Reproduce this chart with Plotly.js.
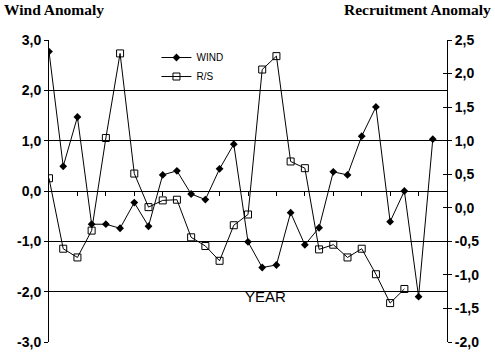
<!DOCTYPE html>
<html>
<head>
<meta charset="utf-8">
<script src="https://cdn.plot.ly/plotly-3.0.1.min.js"></script>
<style>html,body{margin:0;padding:0;background:#fff;}#chart{width:495px;height:356px;}</style>
</head>
<body>
<div id="chart"></div>
<script>
// category index (years, not labelled in the reference)
const yearIdx = [0,1,2,3,4,5,6,7,8,9,10,11,12,13,14,15,16,17,18,19,20,21,22,23,24,25,26,27];
const windValues = [2.77,0.49,1.47,-0.66,-0.66,-0.74,-0.23,-0.70,0.32,0.40,-0.06,-0.17,0.44,0.93,-1.01,-1.52,-1.47,-0.43,-1.07,-0.73,0.38,0.32,1.09,1.67,-0.61,0.0,-2.10,1.03];
const rsValues = [0.44,-0.61,-0.74,-0.34,1.04,2.30,0.51,0.01,0.11,0.12,-0.44,-0.57,-0.79,-0.26,-0.10,2.06,2.26,0.69,0.59,-0.62,-0.55,-0.74,-0.61,-0.99,-1.42,-1.21];
const leftTicks = [-3,-2,-1,0,1,2,3];
const leftTickText = ['-3,0','-2,0','-1,0','0,0','1,0','2,0','3,0'];
const rightTicks = [-2,-1.5,-1,-0.5,0,0.5,1,1.5,2,2.5];
const rightTickText = ['-2,0','-1,5','-1,0','-0,5','0,0','0,5','1,0','1,5','2,0','2,5'];
const xTicks = [2,4,6,8,10,12,14,16,18,20,22,24,26];

const tickFont = {family:'Liberation Sans, Arial, sans-serif', size:14, color:'#000', weight:'bold'};

const traces = [
  {x: yearIdx, y: windValues, name:'WIND', type:'scatter', mode:'lines+markers', xaxis:'x', yaxis:'y',
   line:{color:'#000', width:1}, marker:{symbol:'diamond', size:6, color:'#000'}},
  {x: yearIdx.slice(0, rsValues.length), y: rsValues, name:'R/S', type:'scatter', mode:'lines+markers', xaxis:'x', yaxis:'y2',
   line:{color:'#000', width:1}, marker:{symbol:'square-open', size:7, color:'#000', line:{width:1}}}
];

const layout = {
  width:495, height:356,
  margin:{l:49, r:48, t:40, b:14, pad:0},
  paper_bgcolor:'#fff', plot_bgcolor:'#fff',
  showlegend:true,
  legend:{x:0.27, y:0.99, xanchor:'left', yanchor:'top', bgcolor:'rgba(0,0,0,0)',
          font:{family:'Liberation Sans, Arial, sans-serif', size:10, color:'#000'},
          tracegroupgap:0, itemwidth:30},
  xaxis:{range:[0,28], anchor:'free', position:0.5, tickvals:xTicks, showticklabels:false,
         ticks:'outside', ticklen:4, tickcolor:'#000', tickwidth:1, showgrid:false, zeroline:false, showline:false},
  yaxis:{range:[-3,3], tickvals:leftTicks, ticktext:leftTickText, tickfont:tickFont,
         ticks:'outside', ticklen:4, tickcolor:'#000', tickwidth:1,
         showgrid:true, gridcolor:'#000', gridwidth:1, zeroline:false,
         showline:true, linecolor:'#000', linewidth:1, anchor:'x', position:0},
  yaxis2:{range:[-2,2.5], overlaying:'y', side:'right', tickvals:rightTicks, ticktext:rightTickText, tickfont:tickFont,
          ticks:'outside', ticklen:4, tickcolor:'#000', tickwidth:1,
          showgrid:false, zeroline:false, showline:true, linecolor:'#000', linewidth:1},
  yaxis3:{range:[-3,3], overlaying:'y', side:'left', tickvals:leftTicks, showticklabels:false,
          ticks:'inside', ticklen:4, tickcolor:'#000', showgrid:false, zeroline:false, showline:false},
  yaxis4:{range:[-2,2.5], overlaying:'y', side:'right', tickvals:rightTicks, showticklabels:false,
          ticks:'inside', ticklen:4, tickcolor:'#000', showgrid:false, zeroline:false, showline:false},
  annotations:[
    {text:'Wind Anomaly', xref:'paper', yref:'paper', x:-0.117, y:1.1, xanchor:'left', yanchor:'middle',
     showarrow:false, font:{family:'Liberation Serif, Times New Roman, serif', size:15.5, color:'#000', weight:'bold'}},
    {text:'Recruitment Anomaly', xref:'paper', yref:'paper', x:1.115, y:1.1, xanchor:'right', yanchor:'middle',
     showarrow:false, font:{family:'Liberation Serif, Times New Roman, serif', size:15.5, color:'#000', weight:'bold'}},
    {text:'YEAR', xref:'paper', yref:'paper', x:0.545, y:0.15, xanchor:'center', yanchor:'middle',
     showarrow:false, font:{family:'Liberation Sans, Arial, sans-serif', size:15, color:'#000'}}
  ]
};
// invisible traces that carry the extra tick axes (crossing tick marks)
traces.push({x:[0], y:[0], yaxis:'y3', xaxis:'x', mode:'markers', marker:{opacity:0}, showlegend:false, hoverinfo:'skip'});
traces.push({x:[0], y:[0], yaxis:'y4', xaxis:'x', mode:'markers', marker:{opacity:0}, showlegend:false, hoverinfo:'skip'});

Plotly.newPlot('chart', traces, layout, {displayModeBar:false, staticPlot:true});
</script>
</body>
</html>
